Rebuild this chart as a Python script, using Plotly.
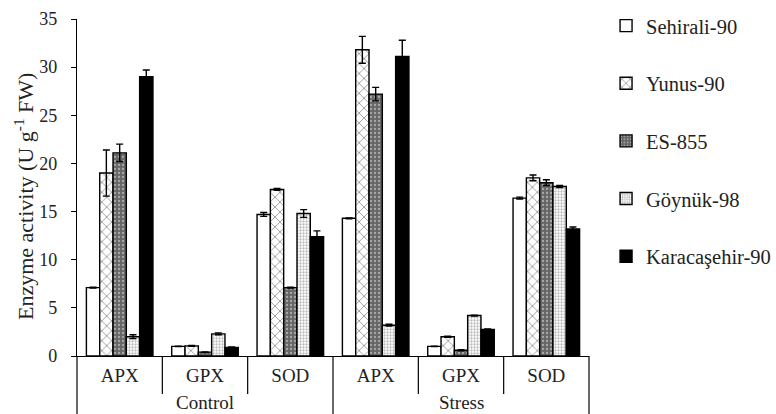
import plotly.graph_objects as go

categories = ["APX", "GPX", "SOD", "APX", "GPX", "SOD"]
conditions = ["Control", "Stress"]

series_names = ["Sehirali-90", "Yunus-90", "ES-855", "Göynük-98", "Karacaşehir-90"]

sehirali = [7.1, 1.0, 14.7, 14.3, 1.0, 16.4]
yunus = [19.0, 1.05, 17.3, 31.8, 2.0, 18.5]
es855 = [21.1, 0.4, 7.1, 27.2, 0.6, 18.0]
goynuk = [2.0, 2.3, 14.8, 3.2, 4.2, 17.6]
karacasehir = [29.0, 0.9, 12.4, 31.1, 2.75, 13.2]

sehirali_err = [0.05, 0.03, 0.2, 0.05, 0.03, 0.1]
yunus_err = [2.4, 0.05, 0.1, 1.4, 0.05, 0.3]
es855_err = [0.9, 0.03, 0.05, 0.7, 0.05, 0.3]
goynuk_err = [0.2, 0.1, 0.4, 0.1, 0.05, 0.1]
karacasehir_err = [0.7, 0.03, 0.6, 1.7, 0.05, 0.2]

values = [sehirali, yunus, es855, goynuk, karacasehir]
errors = [sehirali_err, yunus_err, es855_err, goynuk_err, karacasehir_err]

FONT = "Liberation Serif, Times New Roman, serif"
TXT = "#222222"

patterns = [
    dict(shape="", bgcolor="white"),
    dict(shape="x", size=7, solidity=0.25, fgcolor="#3a3a3a", bgcolor="white"),
    dict(shape=".", size=4, solidity=0.25, fgcolor="#eeeeee", bgcolor="#666666"),
    dict(shape=".", size=3, solidity=0.45, fgcolor="#777777", bgcolor="white"),
    dict(shape="", bgcolor="black"),
]
fills = ["white", "white", "#666666", "white", "black"]

xpos = list(range(len(categories)))

fig = go.Figure()
for i, name in enumerate(series_names):
    fig.add_trace(go.Bar(
        x=xpos, y=values[i], name=name, legendgroup=name,
        marker=dict(color=fills[i], line=dict(color="black", width=1.4),
                    pattern=patterns[i]),
        error_y=dict(type="data", array=errors[i], visible=True,
                     color="black", thickness=1.4, width=3.5),
    ))

x_range = [-0.5, len(categories) - 0.5]

def xp(v):
    return (v - x_range[0]) / (x_range[1] - x_range[0])

plot_h = 337.0
plot_w = 512.0
shapes = []
for v in [-0.5, 2.5, 5.5]:
    shapes.append(dict(type="line", xref="paper", yref="paper", x0=xp(v), x1=xp(v),
                       y0=0, y1=-58 / plot_h, line=dict(color="black", width=1.2)))
for v in [0.5, 1.5, 3.5, 4.5]:
    shapes.append(dict(type="line", xref="paper", yref="paper", x0=xp(v), x1=xp(v),
                       y0=0, y1=-38 / plot_h, line=dict(color="black", width=1.2)))

annotations = []
for j, c in enumerate(conditions):
    annotations.append(dict(x=1 + 3 * j, y=-46 / plot_h, xref="x", yref="paper",
                            text=c, showarrow=False, yanchor="middle",
                            font=dict(family=FONT, size=19, color=TXT)))
annotations.append(dict(x=-53 / plot_w, y=1 - 178 / plot_h, xref="paper", yref="paper",
                        text="Enzyme activity (U g<sup>-1</sup> FW)", textangle=-90,
                        showarrow=False, xanchor="center", yanchor="middle",
                        font=dict(family=FONT, size=22, color=TXT)))

fig.update_layout(
    width=776, height=414,
    margin=dict(l=77, r=187, t=19, b=58),
    paper_bgcolor="white", plot_bgcolor="white",
    barmode="group", bargap=0.22, bargroupgap=0,
    font=dict(family=FONT, size=18, color=TXT),
    shapes=shapes, annotations=annotations,
    legend=dict(xref="container", yref="container", x=0.781, y=0.986,
                xanchor="left", yanchor="top",
                traceorder="grouped", tracegroupgap=28, maxheight=400,
                font=dict(family=FONT, size=20.5, color=TXT)),
    xaxis=dict(range=x_range, tickmode="array", tickvals=xpos, ticktext=categories,
               showline=True, linecolor="black", linewidth=1.2, ticks="",
               showgrid=False, zeroline=False, ticklabelstandoff=2, automargin=False,
               tickfont=dict(family=FONT, size=19, color=TXT)),
    yaxis=dict(range=[0, 35], dtick=5, showline=True, linecolor="black", linewidth=1.2,
               ticks="outside", ticklen=5, tickcolor="black", showgrid=False,
               zeroline=False, ticklabelstandoff=10, automargin=False,
               tickfont=dict(family=FONT, size=18, color=TXT)),
)

fig.write_html("out.html", config={"displayModeBar": False},
               post_script="document.body.style.margin='0';document.body.style.overflow='hidden';")
